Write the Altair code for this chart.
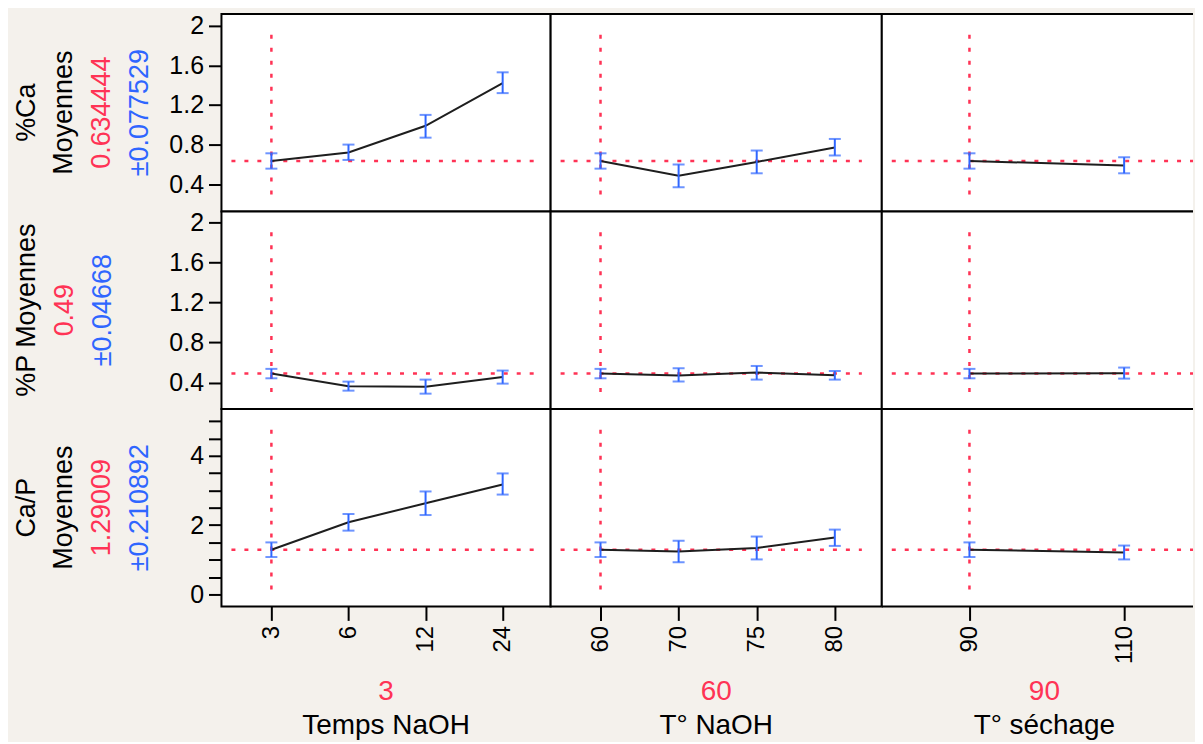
import altair as alt
import pandas as pd

# ---------------- data ----------------
FACTORS = ["Temps NaOH", "T° NaOH", "T° séchage"]
LEVELS = [["3", "6", "12", "24"], ["60", "70", "75", "80"], ["90", "110"]]
CURRENT_LEVEL = ["3", "60", "90"]

RESP_TITLE = [["%Ca", "Moyennes"], ["%P Moyennes"], ["Ca/P", "Moyennes"]]
RESP_VALUE = ["0.634444", "0.49", "1.29009"]
RESP_CI = ["±0.077529", "±0.04668", "±0.210892"]
CURRENT_MEAN = [0.634444, 0.49, 1.29009]

# %Ca
CA_MEAN = [[0.634, 0.72, 0.99, 1.42], [0.634, 0.485, 0.625, 0.77], [0.634, 0.59]]
CA_LO = [[0.557, 0.645, 0.87, 1.32], [0.557, 0.37, 0.51, 0.69], [0.557, 0.51]]
CA_HI = [[0.712, 0.80, 1.10, 1.53], [0.712, 0.60, 0.74, 0.857], [0.712, 0.672]]
# %P
P_MEAN = [[0.49, 0.364, 0.36, 0.455], [0.49, 0.47, 0.50, 0.473], [0.49, 0.493]]
P_LO = [[0.443, 0.32, 0.29, 0.39], [0.443, 0.41, 0.43, 0.43], [0.443, 0.44]]
P_HI = [[0.537, 0.41, 0.43, 0.52], [0.537, 0.543, 0.566, 0.516], [0.537, 0.55]]
# Ca/P
CAP_MEAN = [[1.29, 2.08, 2.63, 3.17], [1.29, 1.24, 1.34, 1.64], [1.29, 1.21]]
CAP_LO = [[1.079, 1.84, 2.29, 2.88], [1.079, 0.93, 1.01, 1.40], [1.079, 1.01]]
CAP_HI = [[1.501, 2.32, 2.97, 3.49], [1.501, 1.55, 1.67, 1.87], [1.501, 1.41]]

MEANS = [CA_MEAN, P_MEAN, CAP_MEAN]
LOS = [CA_LO, P_LO, CAP_LO]
HIS = [CA_HI, P_HI, CAP_HI]

Y_TICKS = [[0.4, 0.8, 1.2, 1.6, 2], [0.4, 0.8, 1.2, 1.6, 2],
           [0, 0.5, 1, 1.5, 2, 2.5, 3, 3.5, 4, 4.5, 5]]
Y_DOMAIN = [[0.125, 2.12], [0.138, 2.106], [-0.345, 5.35]]

# ---------------- style ----------------
FONT = "Liberation Sans"
RED = "#ff3355"
BLUE = "#2f66ff"
BLACK = "#000000"
LINE = "#1e1e1e"
BG = "#f4f1ec"

H = 198
WIDTHS = [330, 332, 312]
PADS = [0.635, 0.62, 0.506]
ALIGNS = [0.51, 0.515, 0.56]
HLINE_END = [313, 312, 312]
BOTTOM_CENTER = [165, 166, 163]
TITLE_X = [[-195, -158, -120, -82], [-195, -157, -119], [-195, -158, -120, -82]]


def text_layer(txt, color, x, y, angle=0, size=27):
    return alt.Chart(pd.DataFrame({"t": [txt]})).mark_text(
        font=FONT, fontSize=size, color=color, angle=angle,
        align="center", baseline="middle"
    ).encode(text="t:N", x=alt.value(x), y=alt.value(y))


def hborder(W, y):
    return alt.Chart(pd.DataFrame({"b": [0]})).mark_rule(
        color=BLACK, strokeWidth=2
    ).encode(x=alt.value(0), x2=alt.value(W), y=alt.value(y))


def vborder(x):
    return alt.Chart(pd.DataFrame({"b": [0]})).mark_rule(
        color=BLACK, strokeWidth=2
    ).encode(x=alt.value(x), y=alt.value(0), y2=alt.value(H))


def panel(r, c):
    W = WIDTHS[c]
    df = pd.DataFrame({"lvl": LEVELS[c], "mean": MEANS[r][c],
                       "lo": LOS[r][c], "hi": HIS[r][c]})
    cur = pd.DataFrame({"lvl": [CURRENT_LEVEL[c]], "m": [CURRENT_MEAN[r]]})

    if r == 2:
        xaxis = alt.Axis(title=None, labelAngle=270, labelAlign="right",
                         labelBaseline="middle", labelFont=FONT, labelFontSize=24,
                         labelColor=BLACK, labelPadding=5, tickSize=14, tickWidth=2,
                         tickColor=BLACK, domain=False, grid=False, labelOverlap=False)
    else:
        xaxis = None
    xs = alt.X("lvl:O", sort=LEVELS[c],
               scale=alt.Scale(type="point", padding=PADS[c], align=ALIGNS[c]),
               axis=xaxis, title=None)

    ys = alt.Scale(domain=Y_DOMAIN[r], nice=False, zero=False)
    if c == 0:
        kw = dict(values=Y_TICKS[r], format="~g", labelFont=FONT, labelFontSize=25,
                  labelColor=BLACK, labelPadding=5, tickSize=13, tickWidth=2,
                  tickColor=BLACK, domain=False, grid=False, title=None,
                  labelOverlap=False)
        if r == 2:
            kw["labelExpr"] = "datum.value % 2 === 0 ? datum.label : ''"
        yaxis = alt.Axis(**kw)
    else:
        yaxis = None

    def Y(f):
        return alt.Y(f, scale=ys, axis=yaxis, title=None)

    base = alt.Chart(df)
    vline = alt.Chart(cur).mark_rule(color=RED, strokeDash=[4, 9], strokeWidth=2.5).encode(
        x=xs, y=alt.value(21), y2=alt.value(H - 11))
    hline = alt.Chart(cur).mark_rule(color=RED, strokeDash=[4, 9], strokeWidth=2.5).encode(
        y=Y("m:Q"), x=alt.value(10), x2=alt.value(HLINE_END[c]))
    line = base.mark_line(color=LINE, strokeWidth=2).encode(x=xs, y=Y("mean:Q"))
    bar = base.mark_rule(color=BLUE, strokeWidth=2).encode(x=xs, y=Y("lo:Q"), y2="hi:Q")
    cap_lo = base.mark_tick(color=BLUE, thickness=2, size=12).encode(x=xs, y=Y("lo:Q"))
    cap_hi = base.mark_tick(color=BLUE, thickness=2, size=12).encode(x=xs, y=Y("hi:Q"))

    layers = [vline, hline, line, bar, cap_lo, cap_hi]

    if c == 0:
        lines = RESP_TITLE[r] + [RESP_VALUE[r], RESP_CI[r]]
        colors = [BLACK] * len(RESP_TITLE[r]) + [RED, BLUE]
        for txt, col, x in zip(lines, colors, TITLE_X[r]):
            layers.append(text_layer(txt, col, x, H / 2, angle=270))
    if r == 2:
        layers.append(text_layer(CURRENT_LEVEL[c], RED, BOTTOM_CENTER[c], H + 86, size=28))
        layers.append(text_layer(FACTORS[c], BLACK, BOTTOM_CENTER[c], H + 120, size=28))

    props = dict(width=W, height=H)
    if c == 2:
        # rightmost column is cut off by the window in the original: no right border
        layers.append(hborder(W, 0))
        layers.append(hborder(W, H))
        layers.append(vborder(0))
        props["view"] = alt.ViewBackground(fill="white", strokeOpacity=0)
    return alt.layer(*layers).properties(**props)


panels = [panel(r, c) for r in range(3) for c in range(3)]
chart = alt.concat(*panels, columns=3, spacing=0, bounds="flush", align="each").properties(
    padding={"left": 4, "top": 3, "right": 0, "bottom": 0},
    background=BG,
).configure_view(stroke=BLACK, strokeWidth=2, fill="white")

chart.save("out.html", embed_options={"renderer": "svg", "actions": False})
